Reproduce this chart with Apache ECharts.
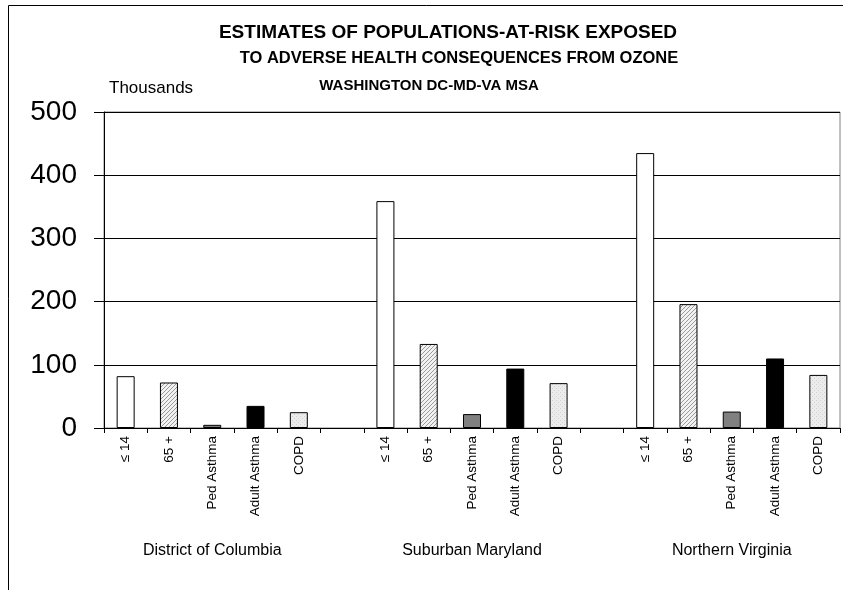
<!DOCTYPE html>
<html><head><meta charset="utf-8">
<script src="https://cdn.jsdelivr.net/npm/echarts@6/dist/echarts.min.js"></script>
<style>html,body{margin:0;padding:0;background:#fff}#c{width:843px;height:590px}</style>
</head><body><div id="c"></div>
<script>
const measures = ['≤ 14', '65 +', 'Ped Asthma', 'Adult Asthma', 'COPD'];
const regions = ['District of Columbia', 'Suburban Maryland', 'Northern Virginia'];
const dcValues = [82, 72, 5, 35, 25];
const mdValues = [359, 133, 22, 94, 71];
const nvValues = [435, 196, 26, 110, 84];
const yTicks = [0, 100, 200, 300, 400, 500];

function makePattern(kind) {
  const c = document.createElement('canvas');
  c.width = 4; c.height = 4;
  const g = c.getContext('2d');
  if (kind === 'hatch') {
    g.fillStyle = '#f2f2f2'; g.fillRect(0, 0, 4, 4);
    g.strokeStyle = '#9a9a9a'; g.lineWidth = 1;
    g.beginPath(); g.moveTo(0, 4); g.lineTo(4, 0); g.stroke();
    g.beginPath(); g.moveTo(-1, 1); g.lineTo(1, -1); g.stroke();
    g.beginPath(); g.moveTo(3, 5); g.lineTo(5, 3); g.stroke();
  } else {
    g.fillStyle = '#ececec'; g.fillRect(0, 0, 4, 4);
    g.fillStyle = '#d0d0d0'; g.fillRect(0, 0, 1, 1); g.fillRect(2, 2, 1, 1);
  }
  return { image: c, repeat: 'repeat' };
}
const fills = ['#ffffff', makePattern('hatch'), '#808080', '#000000', makePattern('dots')];

const groups = [dcValues, mdValues, nvValues];
const cats = [], regionCats = [], barData = [];
groups.forEach((vals, gi) => {
  measures.forEach((m, mi) => {
    cats.push(m);
    regionCats.push(mi === 2 ? regions[gi] : '');
    barData.push({ value: vals[mi], itemStyle: { color: fills[mi] } });
  });
  if (gi < groups.length - 1) { cats.push(''); regionCats.push(''); barData.push(null); }
});

const FONT = '"Liberation Sans", Arial, sans-serif';
const chart = echarts.init(document.getElementById('c'), null, { renderer: 'canvas' });
chart.setOption({
  animation: false,
  backgroundColor: '#fff',
  grid: { left: 104, right: 3, top: 112, bottom: 162, show: true, borderColor: '#808080', borderWidth: 1, backgroundColor: 'transparent' },
  graphic: [
    { type: 'rect', shape: { x: 8.5, y: 5.5, width: 900, height: 700 }, style: { fill: null, stroke: '#000', lineWidth: 1 }, silent: true, z: -10 },
    { type: 'text', x: 448, y: 33, style: { text: 'ESTIMATES OF POPULATIONS-AT-RISK EXPOSED', font: 'bold 19px ' + FONT, fill: '#000', textAlign: 'center', textVerticalAlign: 'middle' } },
    { type: 'text', x: 459, y: 58, style: { text: 'TO ADVERSE HEALTH CONSEQUENCES FROM OZONE', font: 'bold 16.5px ' + FONT, fill: '#000', textAlign: 'center', textVerticalAlign: 'middle' } },
    { type: 'text', x: 429, y: 86, style: { text: 'WASHINGTON DC-MD-VA MSA', font: 'bold 15px ' + FONT, fill: '#000', textAlign: 'center', textVerticalAlign: 'middle' } },
    { type: 'text', x: 109, y: 88, style: { text: 'Thousands', font: '17px ' + FONT, fill: '#000', textAlign: 'left', textVerticalAlign: 'middle' } }
  ],
  xAxis: [
    {
      type: 'category', data: cats, position: 'bottom',
      axisLine: { show: true, lineStyle: { color: '#000', width: 1 } },
      axisTick: { show: true, length: 5, alignWithLabel: false, interval: 0, lineStyle: { color: '#000' } },
      axisLabel: { interval: 0, rotate: 90, fontSize: 13.5, fontFamily: FONT, color: '#000', margin: 8 },
      splitLine: { show: false }
    },
    {
      type: 'category', data: regionCats, position: 'bottom',
      axisLine: { show: false }, axisTick: { show: false },
      axisLabel: { interval: 0, fontSize: 16, fontFamily: FONT, color: '#000', margin: 115 },
      splitLine: { show: false }
    }
  ],
  yAxis: {
    type: 'value', min: yTicks[0], max: yTicks[yTicks.length - 1], interval: 100,
    axisLine: { show: true, lineStyle: { color: '#000', width: 1 } },
    axisTick: { show: true, length: 10, lineStyle: { color: '#000' } },
    axisLabel: { fontSize: 28, fontFamily: FONT, color: '#000', margin: 27 },
    splitLine: { show: true, lineStyle: { color: '#000', width: 1 } }
  },
  series: [{
    type: 'bar', xAxisIndex: 0, data: barData, barWidth: 18,
    itemStyle: { borderColor: '#000', borderWidth: 1 }
  }]
});
</script></body></html>
